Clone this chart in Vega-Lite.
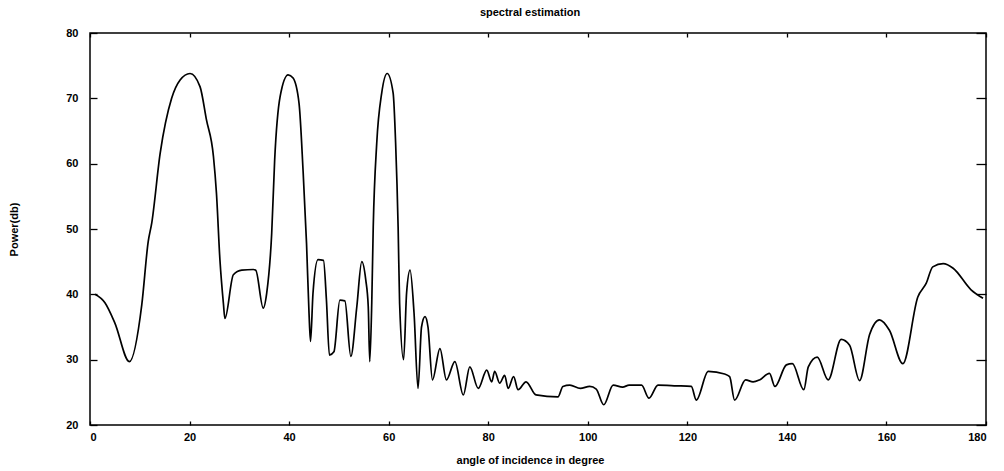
{
  "$schema": "https://vega.github.io/schema/vega-lite/v6.json",
  "width": 896,
  "height": 392,
  "autosize": {"type": "none"},
  "padding": {"left": 90, "top": 33, "right": 18, "bottom": 46},
  "background": "white",
  "title": {"text": "spectral estimation", "font": "Liberation Sans", "fontSize": 11, "fontWeight": "bold", "color": "black", "offset": 9, "dx": -8},
  "config": {
    "view": {"stroke": "black", "strokeWidth": 1.5},
    "axis": {"grid": false, "domain": false, "tickColor": "black", "tickWidth": 1.3, "labelColor": "black", "titleColor": "black", "labelFont": "Liberation Sans", "labelFontSize": 11, "labelFontWeight": "bold", "titleFont": "Liberation Sans", "titleFontSize": 11, "titleFontWeight": "bold"}
  },
  "data": {"values": [
    {"angle": 1, "power": 40.0}, {"angle": 3.0, "power": 38.7}, {"angle": 5.0, "power": 35.6}, {"angle": 7.9, "power": 29.7},
    {"angle": 10.4, "power": 38.4}, {"angle": 11.7, "power": 48.1}, {"angle": 12.4, "power": 50.9}, {"angle": 14.1, "power": 61.6},
    {"angle": 16.4, "power": 70.0}, {"angle": 18.1, "power": 72.8}, {"angle": 20.1, "power": 73.8}, {"angle": 22.1, "power": 71.8},
    {"angle": 23.4, "power": 66.7}, {"angle": 24.8, "power": 61.1}, {"angle": 25.4, "power": 55.5}, {"angle": 26.1, "power": 45.3},
    {"angle": 26.8, "power": 38.6}, {"angle": 27.1, "power": 36.3}, {"angle": 28.8, "power": 43.0}, {"angle": 30.5, "power": 43.7},
    {"angle": 32.8, "power": 43.8}, {"angle": 33.3, "power": 43.7}, {"angle": 34.8, "power": 37.9}, {"angle": 35.5, "power": 40.2},
    {"angle": 36.5, "power": 49.3}, {"angle": 37.1, "power": 60.6}, {"angle": 38.2, "power": 70.3}, {"angle": 39.8, "power": 73.6},
    {"angle": 40.8, "power": 73.1}, {"angle": 42.0, "power": 69.2}, {"angle": 42.8, "power": 59.0}, {"angle": 43.5, "power": 47.8},
    {"angle": 44.0, "power": 37.1}, {"angle": 44.3, "power": 32.8}, {"angle": 44.8, "power": 40.2}, {"angle": 45.8, "power": 45.3},
    {"angle": 46.9, "power": 45.2}, {"angle": 47.5, "power": 39.1}, {"angle": 48.1, "power": 30.7}, {"angle": 49.0, "power": 31.2},
    {"angle": 50.2, "power": 39.1}, {"angle": 51.2, "power": 39.0}, {"angle": 52.4, "power": 30.5}, {"angle": 53.6, "power": 38.1},
    {"angle": 54.6, "power": 45.0}, {"angle": 55.4, "power": 42.2}, {"angle": 55.9, "power": 38.1}, {"angle": 56.2, "power": 29.7},
    {"angle": 56.6, "power": 38.6}, {"angle": 56.9, "power": 50.3}, {"angle": 57.6, "power": 63.1}, {"angle": 58.6, "power": 70.8},
    {"angle": 59.7, "power": 73.8}, {"angle": 60.9, "power": 70.8}, {"angle": 61.4, "power": 63.1}, {"angle": 61.9, "power": 50.3},
    {"angle": 62.2, "power": 38.6}, {"angle": 63.0, "power": 30.0}, {"angle": 63.6, "power": 40.2}, {"angle": 64.3, "power": 43.7},
    {"angle": 65.1, "power": 37.1}, {"angle": 65.9, "power": 25.6}, {"angle": 66.6, "power": 35.0}, {"angle": 67.3, "power": 36.6},
    {"angle": 67.9, "power": 35.0}, {"angle": 68.8, "power": 26.9}, {"angle": 70.3, "power": 31.7}, {"angle": 71.6, "power": 26.9},
    {"angle": 73.3, "power": 29.7}, {"angle": 75.0, "power": 24.6}, {"angle": 76.3, "power": 28.9}, {"angle": 78.0, "power": 25.6},
    {"angle": 79.7, "power": 28.4}, {"angle": 80.7, "power": 26.6}, {"angle": 81.3, "power": 28.2}, {"angle": 82.3, "power": 26.4},
    {"angle": 83.3, "power": 27.6}, {"angle": 84.0, "power": 25.6}, {"angle": 85.1, "power": 27.4}, {"angle": 86.0, "power": 25.4},
    {"angle": 87.6, "power": 26.6}, {"angle": 89.6, "power": 24.6}, {"angle": 94.0, "power": 24.3}, {"angle": 95.0, "power": 25.9},
    {"angle": 96.4, "power": 26.1}, {"angle": 98.5, "power": 25.6}, {"angle": 100.4, "power": 25.9}, {"angle": 101.7, "power": 25.5},
    {"angle": 103.2, "power": 23.1}, {"angle": 105.1, "power": 26.1}, {"angle": 107.0, "power": 25.8}, {"angle": 108.3, "power": 26.1},
    {"angle": 110.8, "power": 26.1}, {"angle": 112.3, "power": 24.1}, {"angle": 114.1, "power": 26.1}, {"angle": 117.8, "power": 26.0},
    {"angle": 120.8, "power": 25.9}, {"angle": 121.8, "power": 23.8}, {"angle": 124.2, "power": 28.2}, {"angle": 127.5, "power": 27.8},
    {"angle": 128.5, "power": 27.4}, {"angle": 129.5, "power": 23.8}, {"angle": 131.7, "power": 26.9}, {"angle": 133.2, "power": 26.6},
    {"angle": 134.5, "power": 26.9}, {"angle": 136.5, "power": 27.9}, {"angle": 137.6, "power": 25.9}, {"angle": 139.9, "power": 29.2},
    {"angle": 141.1, "power": 29.4}, {"angle": 143.4, "power": 25.4}, {"angle": 144.3, "power": 28.9}, {"angle": 146.1, "power": 30.4},
    {"angle": 148.3, "power": 26.9}, {"angle": 150.9, "power": 33.1}, {"angle": 152.6, "power": 32.2}, {"angle": 154.6, "power": 26.8},
    {"angle": 156.6, "power": 33.8}, {"angle": 158.6, "power": 36.1}, {"angle": 160.6, "power": 34.5}, {"angle": 163.3, "power": 29.4},
    {"angle": 166.3, "power": 39.6}, {"angle": 168.0, "power": 41.7}, {"angle": 169.3, "power": 44.2}, {"angle": 171.4, "power": 44.7},
    {"angle": 173.4, "power": 44.0}, {"angle": 177.0, "power": 40.7}, {"angle": 179.4, "power": 39.4}
  ]},
  "layer": [
    {
      "mark": {"type": "line", "color": "black", "strokeWidth": 1.7, "interpolate": "monotone", "clip": true},
      "encoding": {
        "x": {"field": "angle", "type": "quantitative", "scale": {"domain": [0, 180], "nice": false, "zero": false},
              "axis": {"title": "angle of incidence in degree", "values": [0, 20, 40, 60, 80, 100, 120, 140, 160, 180], "tickSize": -4, "labelPadding": 10, "titleX": 440, "titleY": 35, "titleBaseline": "middle"}},
        "y": {"field": "power", "type": "quantitative", "scale": {"domain": [20, 80], "nice": false, "zero": false},
              "axis": {"title": "Power(db)", "values": [20, 30, 40, 50, 60, 70, 80], "tickSize": -7, "labelPadding": 19, "titleX": -76, "titleY": 196, "titleBaseline": "middle"}}
      }
    },
    {
      "mark": {"type": "line", "strokeOpacity": 0},
      "encoding": {
        "x": {"field": "angle", "type": "quantitative", "axis": {"orient": "top", "title": null, "labels": false, "values": [0, 20, 40, 60, 80, 100, 120, 140, 160, 180], "tickSize": -4}},
        "y": {"field": "power", "type": "quantitative", "axis": {"orient": "right", "title": null, "labels": false, "values": [20, 30, 40, 50, 60, 70, 80], "tickSize": -10}}
      }
    }
  ],
  "resolve": {"axis": {"x": "independent", "y": "independent"}}
}
